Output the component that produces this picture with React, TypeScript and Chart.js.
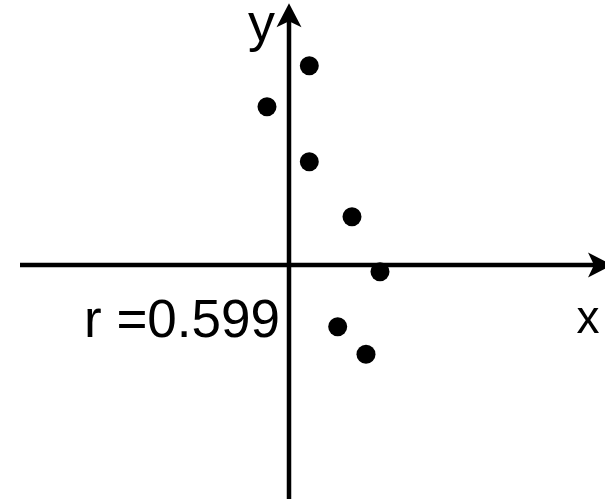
import React, { useEffect, useRef } from "react";
import { Chart, registerables } from "chart.js";

Chart.register(...registerables);

// Scatter values (x, y) in axis units
const pointX = [2.03, -2.2, 2.03, 6.3, 9.1, 4.87, 7.7];
const pointY = [19.93, 15.83, 10.33, 4.83, -0.67, -6.17, -8.93];

// Visible window of the coordinate plane
const xRange = [-28.9, 31.6];
const yRange = [-23.4, 26.5];

// Where each drawn axis starts and where its arrow tip sits
const xAxisSpan = [-26.9, 32.3];
const yAxisSpan = [-23.4, 26.17];

const axisNames = ["x", "y"];
const correlationLabel = "r =0.599";

const FONT = "'Liberation Sans', Arial, Helvetica, sans-serif";

const axesPlugin = {
  id: "crossAxes",
  beforeDatasetsDraw(chart: any) {
    const { ctx, scales } = chart;
    const xs = scales.x;
    const ys = scales.y;
    const ox = xs.getPixelForValue(0);
    const oy = ys.getPixelForValue(0);
    const head = 24;
    const half = 12.5;
    const notch = 6;

    ctx.save();
    ctx.strokeStyle = "#000";
    ctx.fillStyle = "#000";
    ctx.lineWidth = 4.5;

    // horizontal axis
    const xl = xs.getPixelForValue(xAxisSpan[0]);
    const xr = xs.getPixelForValue(xAxisSpan[1]);
    ctx.beginPath();
    ctx.moveTo(xl, oy);
    ctx.lineTo(xr - head + notch + 2, oy);
    ctx.stroke();
    ctx.beginPath();
    ctx.moveTo(xr, oy);
    ctx.lineTo(xr - head, oy - half);
    ctx.lineTo(xr - head + notch, oy);
    ctx.lineTo(xr - head, oy + half);
    ctx.closePath();
    ctx.fill();

    // vertical axis
    const yb = ys.getPixelForValue(yAxisSpan[0]);
    const yt = ys.getPixelForValue(yAxisSpan[1]);
    ctx.beginPath();
    ctx.moveTo(ox, yb);
    ctx.lineTo(ox, yt + head - notch - 2);
    ctx.stroke();
    ctx.beginPath();
    ctx.moveTo(ox, yt);
    ctx.lineTo(ox - half, yt + head);
    ctx.lineTo(ox, yt + head - notch);
    ctx.lineTo(ox + half, yt + head);
    ctx.closePath();
    ctx.fill();

    // labels
    ctx.textBaseline = "alphabetic";
    ctx.textAlign = "center";
    ctx.font = `46px ${FONT}`;
    ctx.fillText(axisNames[0], ox + 299, oy + 68);
    ctx.font = `54px ${FONT}`;
    ctx.fillText(axisNames[1], ox - 27.5, oy - 224);
    ctx.font = `53px ${FONT}`;
    ctx.textAlign = "right";
    ctx.fillText(correlationLabel, ox - 9, oy + 71.5);
    ctx.restore();
  },
};

export default function App() {
  const canvasRef = useRef<HTMLCanvasElement | null>(null);

  useEffect(() => {
    document.body.style.margin = "0";
    const canvas = canvasRef.current;
    if (!canvas) return;
    const chart = new Chart(canvas, {
      type: "scatter",
      data: {
        datasets: [
          {
            data: pointX.map((x, i) => ({ x, y: pointY[i] })),
            backgroundColor: "#000",
            borderColor: "#000",
            pointRadius: 9.5,
            pointHoverRadius: 9.5,
            borderWidth: 0,
          },
        ],
      },
      options: {
        animation: false,
        responsive: false,
        devicePixelRatio: 1,
        layout: { padding: 0, autoPadding: false },
        plugins: {
          legend: { display: false },
          tooltip: { enabled: false },
        },
        scales: {
          x: { type: "linear", min: xRange[0], max: xRange[1], display: false },
          y: { type: "linear", min: yRange[0], max: yRange[1], display: false },
        },
      },
      plugins: [axesPlugin],
    });
    return () => chart.destroy();
  }, []);

  return (
    <div style={{ position: "absolute", left: 0, top: 0, width: 605, height: 499, background: "#fff" }}>
      <canvas ref={canvasRef} width={605} height={499} />
    </div>
  );
}
